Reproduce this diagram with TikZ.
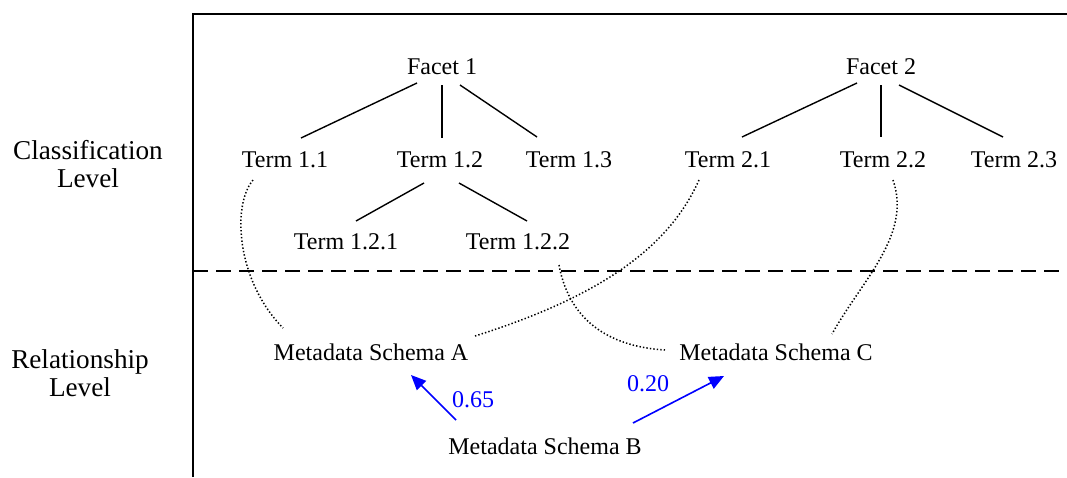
\documentclass[tikz,border=0pt]{standalone}
\usepackage{fontspec}
\setmainfont{Liberation Serif}
\usetikzlibrary{arrows.meta}
\definecolor{linkblue}{RGB}{0,0,255}
\begin{document}
\begin{tikzpicture}[x=1pt,y=-1pt,
  every node/.style={font=\fontsize{24}{28}\selectfont, inner sep=0pt},
  level/.style={align=center, font=\fontsize{27.2}{28}\selectfont},
  tree/.style={line width=1.4pt},
  frame/.style={line width=1.4pt},
  split/.style={line width=1.3pt, dash pattern=on 15pt off 8pt},
  link/.style={line width=1.5pt, dash pattern=on 1.4pt off 2.1pt},
  weight/.style={linkblue, line width=1.6pt, -{Triangle[length=15pt,width=13pt]}},
  wlabel/.style={text=linkblue}]
\useasboundingbox (0,0) rectangle (1067,477);

% frame and level separator
\draw[frame] (193,477) -- (193,14) -- (1067,14);
\draw[split] (193,271) -- (1067,271);

% level labels
\node[level] (lc) at (88,164) {Classification\\Level};
\node[level] (lr) at (80,373) {Relationship\\Level};

% classification facets and terms
\node (f1) at (442,67) {Facet 1};
\node (f2) at (881,67) {Facet 2};
\node (t11) at (285,160) {Term 1.1};
\node (t12) at (440,160) {Term 1.2};
\node (t13) at (569,160) {Term 1.3};
\node (t21) at (728,160) {Term 2.1};
\node (t22) at (883,160) {Term 2.2};
\node (t23) at (1014,160) {Term 2.3};
\node (t121) at (346,242) {Term 1.2.1};
\node (t122) at (518,242) {Term 1.2.2};

% metadata schemas
\node (ma) at (371,352) {Metadata Schema A};
\node (mc) at (776,352) {Metadata Schema C};
\node (mb) at (545,446) {Metadata Schema B};

% facet hierarchy
\draw[tree] ([shift={(-25,16)}]f1.center) -- ([shift={(16,-22)}]t11.center);
\draw[tree] ([shift={(0,18)}]f1.center) -- ([shift={(2,-22)}]t12.center);
\draw[tree] ([shift={(18,18)}]f1.center) -- ([shift={(-32,-23)}]t13.center);
\draw[tree] ([shift={(-24,16)}]f2.center) -- ([shift={(14,-23)}]t21.center);
\draw[tree] ([shift={(0,18)}]f2.center) -- ([shift={(-2,-23)}]t22.center);
\draw[tree] ([shift={(18,18)}]f2.center) -- ([shift={(-11,-23)}]t23.center);
\draw[tree] ([shift={(-16,23)}]t12.center) -- ([shift={(10,-21)}]t121.center);
\draw[tree] ([shift={(19,23)}]t12.center) -- ([shift={(9,-21)}]t122.center);

% term to schema links
\draw[link] ([shift={(-32,20)}]t11.center) .. controls (232,205) and (236,280) .. ([shift={(-88,-24)}]ma.center);
\draw[link] ([shift={(-29,20)}]t21.center) .. controls (670,245) and (605,295) .. ([shift={(104,-16)}]ma.center);
\draw[link] ([shift={(41,23)}]t122.center) .. controls (570,325) and (615,347) .. ([shift={(-111,-2)}]mc.center);
\draw[link] ([shift={(10,20)}]t22.center) .. controls (912,235) and (862,280) .. ([shift={(56,-18)}]mc.center);

% similarity weights
\draw[weight] ([shift={(-89,-26)}]mb.center) -- ([shift={(40,23)}]ma.center);
\node[wlabel] (w1) at (473,400) {0.65};
\draw[weight] ([shift={(88,-23)}]mb.center) -- ([shift={(-52,24)}]mc.center);
\node[wlabel] (w2) at (648,384) {0.20};
\end{tikzpicture}
\end{document}
